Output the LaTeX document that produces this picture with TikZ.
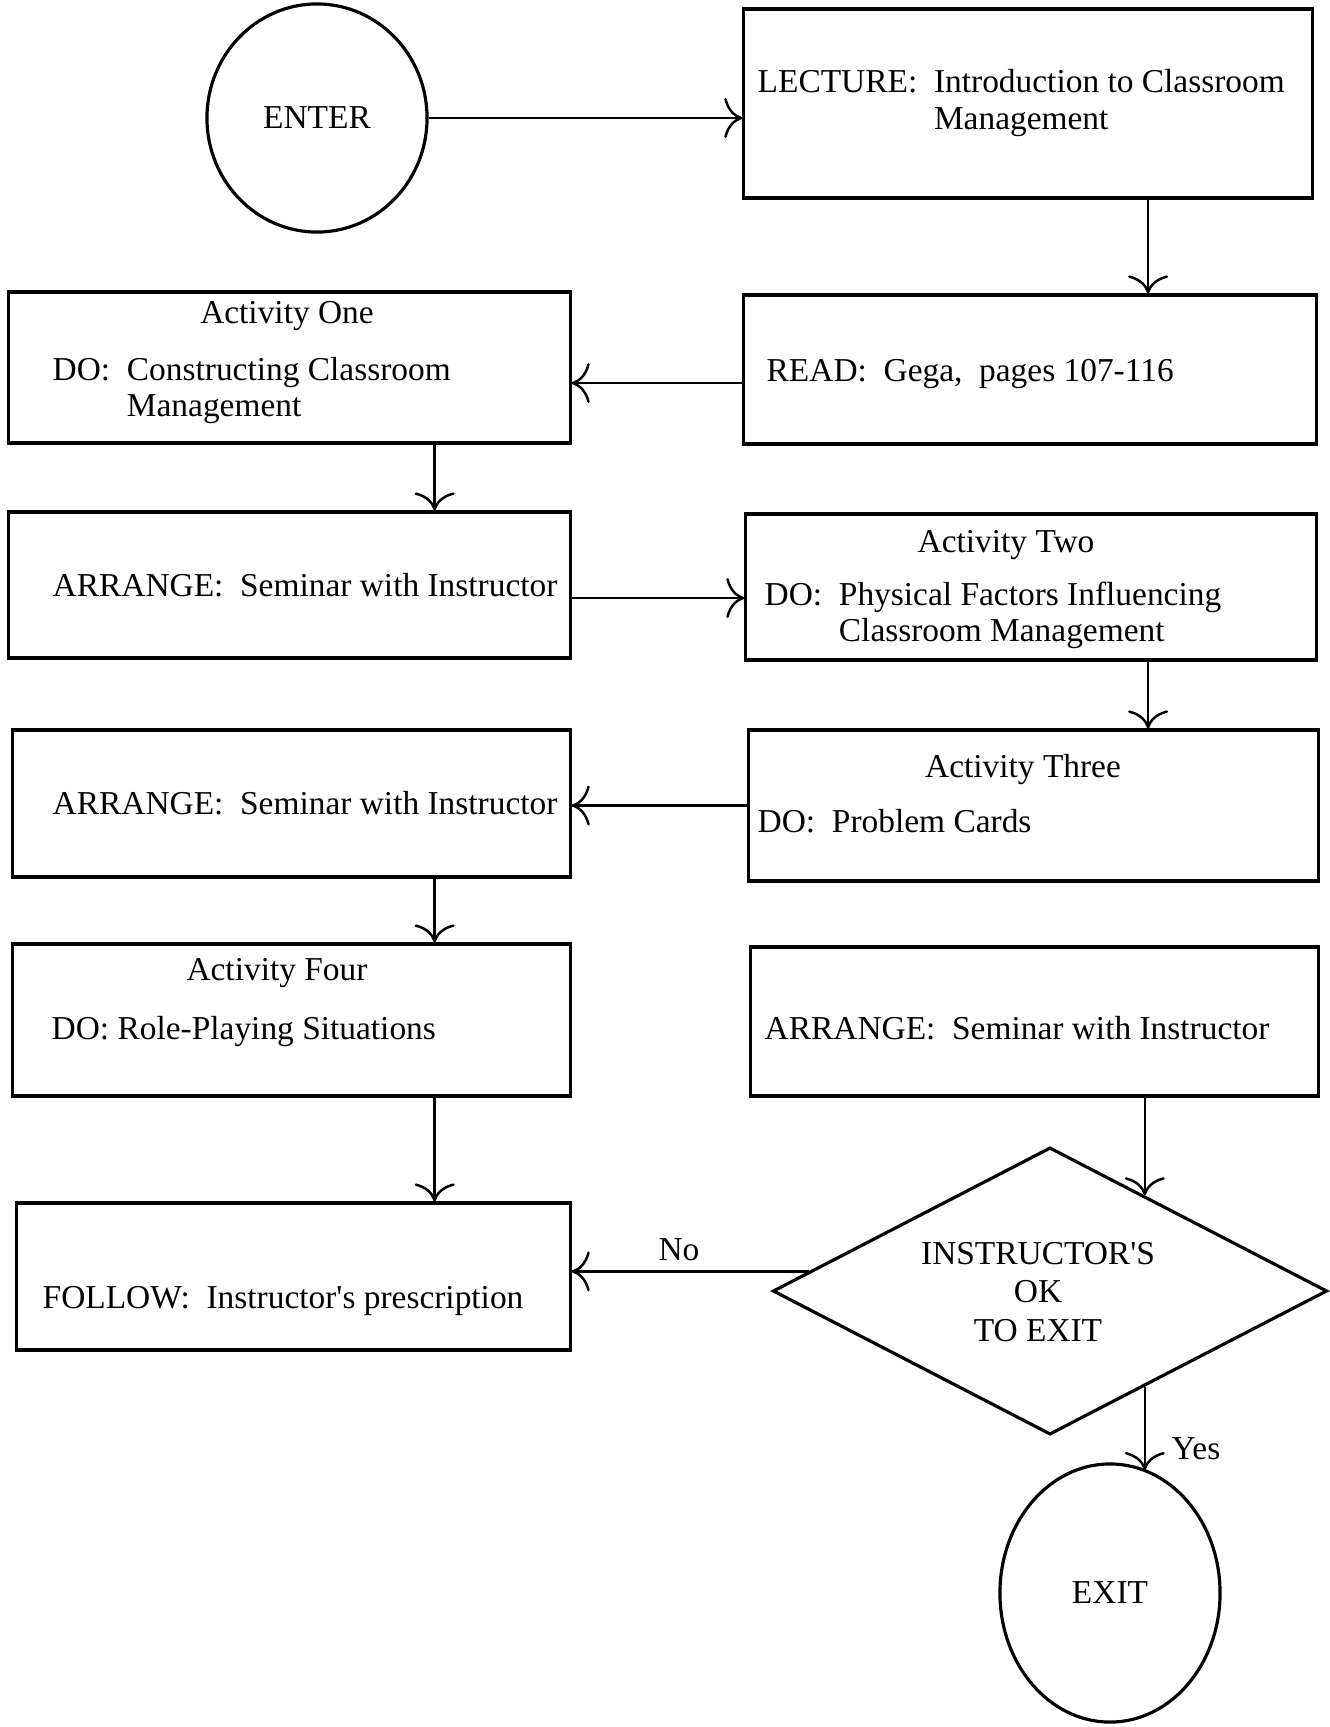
\documentclass[tikz,border=0pt]{standalone}
\usepackage{fontspec}
\setmainfont{Liberation Serif}
\usetikzlibrary{calc,arrows.meta,shapes.geometric}
\newcommand\flowfont{\fontsize{9.5}{10.3}\selectfont}
\tikzset{
	box/.style={draw, line width=0.9pt, inner sep=0pt},
	arr/.style={line width=0.7pt, -{Computer Modern Rightarrow[length=1.8mm, width=4mm]}},
	txt/.style={font=\flowfont, inner sep=0pt, align=left}
}

\begin{document}
\begin{tikzpicture}[x=0.01cm, y=-0.01cm]
			%%%%% START %%%%%
			\useasboundingbox (0, 0) rectangle (1329, 1727);
			
			\node[box, ellipse, minimum width=2.2cm, minimum height=2.28cm, font=\flowfont] (enter) at (317, 118) {ENTER};
			\node[box, minimum width=5.68cm, minimum height=1.89cm] (lecture) at (1028, 103.5) {};
			\node[txt, anchor=west] (lecturet) at (757, 103) {LECTURE:\ \ Introduction to Classroom\\\phantom{LECTURE:\ \ }Management};
			
			\node[box, minimum width=5.72cm, minimum height=1.49cm] (read) at (1030, 369.5) {};
			\node[txt, anchor=west] (readt) at (766, 374) {READ:\ \ Gega,\ \ pages 107-116};
			
			\node[box, minimum width=5.61cm, minimum height=1.51cm] (actone) at (289.5, 367.5) {};
			\node[txt] (actonet) at (287, 316) {Activity One};
			\node[txt, anchor=west] (actoned) at (52, 390.5) {DO:\ \ Constructing Classroom\\\phantom{DO:\ \ }Management};
			
			\node[box, minimum width=5.61cm, minimum height=1.46cm] (arrone) at (289.5, 585) {};
			\node[txt, anchor=west] (arronet) at (52, 585) {ARRANGE:\ \ Seminar with Instructor};
			
			\node[box, minimum width=5.70cm, minimum height=1.46cm] (acttwo) at (1031, 587) {};
			\node[txt] (acttwot) at (1006, 545) {Activity Two};
			\node[txt, anchor=west] (acttwod) at (764, 615.5) {DO:\ \ Physical Factors Influencing\\\phantom{DO:\ \ }Classroom Management};
			
			\node[box, minimum width=5.69cm, minimum height=1.51cm] (actthree) at (1033.5, 805.5) {};
			\node[txt] (actthreet) at (1023, 770) {Activity Three};
			\node[txt, anchor=west] (actthreed) at (757, 821) {DO:\ \ Problem Cards};
			
			\node[box, minimum width=5.57cm, minimum height=1.47cm] (arrtwo) at (291.5, 803.5) {};
			\node[txt, anchor=west] (arrtwot) at (52, 803) {ARRANGE:\ \ Seminar with Instructor};
			
			\node[box, minimum width=5.57cm, minimum height=1.52cm] (actfour) at (291.5, 1020) {};
			\node[txt] (actfourt) at (277, 973) {Activity Four};
			\node[txt, anchor=west] (actfourd) at (51, 1032) {DO: Role-Playing Situations};
			
			\node[box, minimum width=5.67cm, minimum height=1.49cm] (arrthree) at (1034.5, 1021.5) {};
			\node[txt, anchor=west] (arrthreet) at (764, 1028) {ARRANGE:\ \ Seminar with Instructor};
			
			\node[box, minimum width=5.53cm, minimum height=1.47cm] (follow) at (293.5, 1276.5) {};
			\node[txt, anchor=west] (followt) at (42, 1301) {FOLLOW:\ \ Instructor\textquotesingle s prescription};
			
			\node[box, diamond, minimum width=5.54cm, minimum height=2.87cm] (okexit) at (1050, 1291) {};
			\node[txt, align=center, font=\fontsize{9.5}{11}\selectfont] (okexitt) at (1038, 1292) {INSTRUCTOR\textquotesingle S\\OK\\TO EXIT};
			
			\node[box, ellipse, minimum width=2.2cm, minimum height=2.58cm, font=\flowfont] (exit) at (1110, 1593) {EXIT};
			
			\coordinate (okin) at ($(okexit.north)!0.34!(okexit.east)$);
			\coordinate (nostart) at ($(okexit.west)!0.135!(okexit.north)$);
			\coordinate (yesstart) at ($(okexit.south)!0.34!(okexit.east)$);
			
			\draw[arr] (enter.east) -- (enter.east -| lecture.west);
			\draw[arr] ([xshift=1.2cm]lecture.south) -- ([xshift=1.2cm]lecture.south |- read.north);
			\draw[arr] ([yshift=-0.135cm]read.west) -- ([yshift=-0.135cm]read.west -| actone.east);
			\draw[arr] ([xshift=1.45cm]actone.south) -- ([xshift=1.45cm]actone.south |- arrone.north);
			\draw[arr] ([yshift=-0.13cm]arrone.east) -- ([yshift=-0.13cm]arrone.east -| acttwo.west);
			\draw[arr] ([xshift=1.17cm]acttwo.south) -- ([xshift=1.17cm]acttwo.south |- actthree.north);
			\draw[arr] (actthree.west) -- (actthree.west -| arrtwo.east);
			\draw[arr] ([xshift=1.43cm]arrtwo.south) -- ([xshift=1.43cm]arrtwo.south |- actfour.north);
			\draw[arr] ([xshift=1.43cm]actfour.south) -- ([xshift=1.43cm]actfour.south |- follow.north);
			\draw[arr] (okin |- arrthree.south) -- (okin);
			\draw[arr] (nostart) -- (nostart -| follow.east);
			\draw[arr] (yesstart) -- (yesstart |- exit.73);
			
			\node[txt] (nolabel) at (679, 1250) {No};
			\node[txt] (yeslabel) at (1196, 1449) {Yes};
			
			%%%%% END %%%%%
\end{tikzpicture}
\end{document}
